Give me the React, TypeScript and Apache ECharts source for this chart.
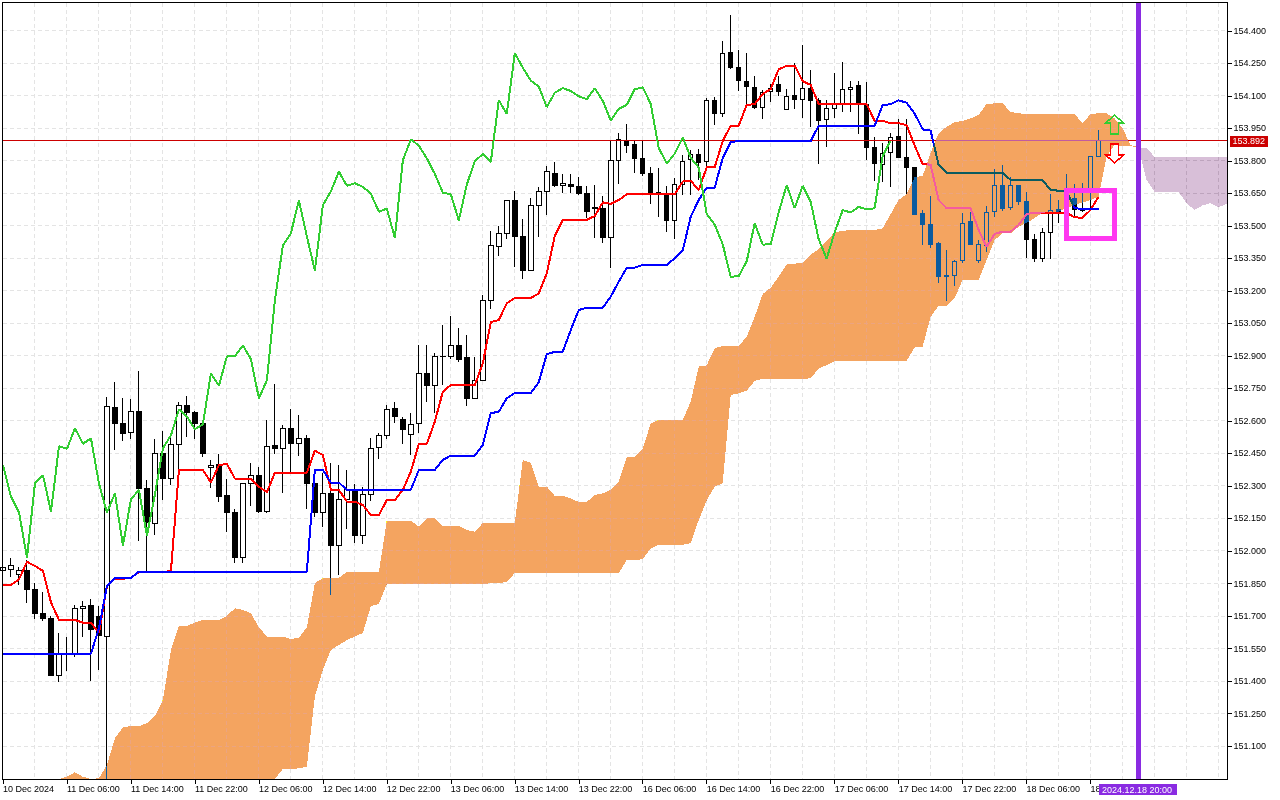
import React, { useEffect, useRef } from "react";
import * as echarts from "echarts";

const timeLabels = [
  "10 Dec 2024", "11 Dec 06:00", "11 Dec 14:00", "11 Dec 22:00", "12 Dec 06:00", "12 Dec 14:00",
  "12 Dec 22:00", "13 Dec 06:00", "13 Dec 14:00", "13 Dec 22:00", "16 Dec 06:00", "16 Dec 14:00",
  "16 Dec 22:00", "17 Dec 06:00", "17 Dec 14:00", "17 Dec 22:00", "18 Dec 06:00", "18",
];
const tickPrices = [
  154.4, 154.25, 154.1, 153.95, 153.8, 153.65, 153.5, 153.35, 153.2, 153.05, 152.9, 152.75,
  152.6, 152.45, 152.3, 152.15, 152.0, 151.85, 151.7, 151.55, 151.4, 151.25, 151.1,
];
const lastPrice = 153.892;
const lastTimeLabel = "2024.12.18 20:00";

// open, close, low, high
const candles = [
  [151.912,151.922,151.903,151.931],[151.913,151.932,151.879,151.966],[151.891,151.909,151.843,151.925],[151.912,151.821,151.761,151.959],
  [151.823,151.711,151.688,151.851],[151.713,151.688,151.678,151.811],[151.689,151.425,151.425,151.700],[151.426,151.528,151.397,151.620],
  [151.524,151.529,151.446,151.601],[151.524,151.736,151.512,151.749],[151.736,151.745,151.602,151.771],[151.749,151.639,151.401,151.780],
  [151.700,151.608,151.449,151.746],[151.606,152.668,150.950,152.710],[152.663,152.588,152.468,152.780],[152.589,152.541,152.509,152.705],
  [152.548,152.645,152.519,152.700],[152.645,152.288,152.048,152.829],[152.288,152.131,151.905,152.328],[152.128,152.449,152.074,152.516],
  [152.449,152.334,152.235,152.553],[152.334,152.491,152.305,152.528],[152.491,152.671,152.313,152.686],[152.672,152.637,152.528,152.715],
  [152.640,152.588,152.518,152.645],[152.589,152.449,152.435,152.589],[152.385,152.396,152.289,152.420],[152.397,152.251,152.228,152.448],
  [152.254,152.179,152.089,152.332],[152.179,151.969,151.943,152.194],[151.969,152.313,151.946,152.313],[152.313,152.350,152.209,152.405],
  [152.349,152.181,152.177,152.389],[152.181,152.483,152.174,152.605],[152.488,152.472,152.448,152.771],[152.474,152.566,152.269,152.581],
  [152.566,152.495,152.359,152.654],[152.495,152.520,152.439,152.628],[152.520,152.312,152.194,152.535],[152.313,152.177,152.158,152.360],
  [152.179,152.266,152.112,152.359],[152.266,152.025,151.797,152.405],[152.025,152.239,151.889,152.397],[152.239,152.282,152.102,152.374],
  [152.279,152.071,152.036,152.310],[152.071,152.262,152.033,152.297],[152.262,152.474,152.232,152.520],[152.477,152.534,152.426,152.543],
  [152.534,152.654,152.518,152.673],[152.659,152.620,152.592,152.686],[152.608,152.562,152.494,152.620],[152.539,152.585,152.443,152.636],
  [152.589,152.820,152.546,152.951],[152.820,152.763,152.689,152.951],[152.765,152.899,152.639,152.913],[152.896,152.899,152.766,153.043],
  [152.899,152.949,152.885,153.085],[152.949,152.886,152.874,153.029],[152.895,152.705,152.671,152.997],[152.705,152.788,152.705,152.895],
  [152.788,153.157,152.788,153.182],[153.157,153.411,153.118,153.477],[153.406,153.466,153.362,153.500],[153.466,153.619,153.441,153.619],
  [153.619,153.451,153.312,153.660],[153.452,153.294,153.257,153.531],[153.296,153.596,153.296,153.628],[153.596,153.660,153.451,153.681],
  [153.660,153.751,153.551,153.777],[153.743,153.686,153.681,153.794],[153.688,153.697,153.654,153.739],[153.692,153.681,153.651,153.739],
  [153.683,153.649,153.643,153.725],[153.651,153.566,153.538,153.685],[153.586,153.580,153.446,153.689],[153.582,153.446,153.423,153.640],
  [153.446,153.803,153.308,153.894],[153.803,153.900,153.694,153.928],[153.896,153.871,153.838,153.971],[153.874,153.812,153.746,153.893],
  [153.812,153.741,153.731,153.893],[153.740,153.654,153.602,153.772],[153.656,153.646,153.543,153.768],[153.646,153.526,153.474,153.685],
  [153.526,153.692,153.440,153.720],[153.692,153.799,153.643,153.828],[153.805,153.832,153.643,153.851],[153.832,153.795,153.712,153.854],
  [153.799,154.080,153.758,154.089],[154.080,154.018,153.966,154.094],[154.020,154.297,154.004,154.352],[154.302,154.231,154.223,154.474],
  [154.233,154.171,154.125,154.312],[154.168,154.143,154.062,154.298],[154.140,154.049,154.041,154.192],[154.048,154.115,153.995,154.128],
  [154.120,154.136,154.074,154.155],[154.154,154.123,154.100,154.192],[154.039,154.099,154.039,154.131],[154.103,154.085,154.039,154.251],
  [154.085,154.136,153.999,154.335],[154.136,154.078,153.958,154.220],[154.078,153.986,153.786,154.089],[153.993,154.041,153.866,154.082],
  [154.041,154.059,153.999,154.205],[154.063,154.131,154.026,154.256],[154.131,154.140,154.028,154.169],[154.149,154.063,153.925,154.169],
  [154.063,153.861,153.805,154.163],[153.863,153.788,153.709,153.909],[153.785,153.834,153.705,153.882],[153.838,153.909,153.681,153.928],
  [153.911,153.815,153.814,153.994],[153.817,153.770,153.648,153.994],[153.771,153.555,153.549,153.771],[153.559,153.506,153.412,153.574],
  [153.508,153.416,153.397,153.639],[153.417,153.266,153.239,153.428],[153.272,153.268,153.155,153.389],[153.272,153.337,153.224,153.343],
  [153.340,153.513,153.328,153.561],[153.519,153.414,153.414,153.563],[153.340,153.416,153.331,153.435],[153.412,153.563,153.382,153.592],
  [153.566,153.688,153.543,153.762],[153.688,153.583,153.571,153.782],[153.585,153.685,153.574,153.725],[153.685,153.612,153.597,153.689],
  [153.614,153.439,153.351,153.656],[153.439,153.349,153.333,153.463],[153.349,153.471,153.333,153.489],[153.471,153.573,153.346,153.648],
  [153.577,153.563,153.515,153.620],[153.573,153.588,153.551,153.740],[153.628,153.577,153.543,153.694],[153.571,153.582,153.566,153.700],
  [153.666,153.823,153.579,153.823],[153.820,153.894,153.820,153.943],
];

const tenkan = [
  151.843,151.843,151.869,151.950,151.931,151.908,151.763,151.682,151.682,151.682,151.669,151.669,151.622,151.839,
  151.872,151.872,151.876,151.903,151.903,151.903,151.903,151.908,152.374,152.374,152.374,152.374,152.316,152.396,
  152.402,152.334,152.334,152.334,152.297,152.272,152.361,152.361,152.361,152.361,152.361,152.463,152.443,152.282,
  152.282,152.228,152.228,152.212,152.166,152.166,152.235,152.235,152.282,152.366,152.494,152.494,152.597,152.735,
  152.766,152.766,152.766,152.766,152.866,153.056,153.066,153.143,153.168,153.168,153.168,153.189,153.282,153.454,
  153.528,153.528,153.528,153.528,153.546,153.609,153.602,153.620,153.646,153.646,153.646,153.646,153.646,153.646,
  153.646,153.705,153.709,153.666,153.771,153.771,153.892,153.963,153.963,154.058,154.063,154.109,154.132,154.223,
  154.239,154.240,154.169,154.151,154.063,154.063,154.063,154.063,154.063,154.063,154.063,153.985,153.986,153.974,
  153.974,153.966,153.872,153.786,153.783,153.620,153.582,153.582,153.582,153.582,153.482,153.404,153.463,153.474,
  153.474,153.505,153.555,153.561,153.561,153.561,153.561,153.561,153.540,153.538,153.574,153.635,
];

const kijun = [
  151.526,151.526,151.526,151.526,151.526,151.526,151.526,151.526,151.526,151.526,151.526,151.526,151.644,151.839,
  151.876,151.876,151.876,151.905,151.905,151.905,151.905,151.905,151.905,151.905,151.905,151.905,151.905,151.905,
  151.905,151.905,151.905,151.905,151.905,151.905,151.905,151.905,151.905,151.905,151.905,152.374,152.374,152.316,
  152.316,152.282,152.282,152.282,152.282,152.282,152.282,152.282,152.282,152.282,152.374,152.374,152.374,152.420,
  152.440,152.440,152.440,152.440,152.489,152.636,152.643,152.705,152.729,152.729,152.729,152.779,152.909,152.919,
  152.920,153.020,153.112,153.123,153.123,153.123,153.174,153.243,153.308,153.308,153.320,153.320,153.320,153.320,
  153.351,153.386,153.543,153.620,153.677,153.677,153.813,153.888,153.892,153.892,153.892,153.892,153.892,153.892,
  153.892,153.892,153.892,153.892,153.963,153.963,153.963,153.963,153.963,153.963,153.963,153.963,154.058,154.062,
  154.080,154.069,154.019,153.946,153.940,153.782,153.746,153.746,153.746,153.746,153.746,153.746,153.746,153.746,
  153.712,153.712,153.712,153.712,153.712,153.666,153.663,153.663,153.582,153.579,153.579,153.579,
];

const chikou = [
  152.396,152.251,152.179,151.969,152.313,152.350,152.181,152.483,152.472,152.566,152.495,152.520,152.312,152.177,
  152.266,152.025,152.239,152.282,152.071,152.262,152.474,152.534,152.654,152.620,152.562,152.585,152.820,152.763,
  152.899,152.899,152.949,152.886,152.705,152.788,153.157,153.411,153.466,153.619,153.451,153.294,153.596,153.660,
  153.751,153.686,153.697,153.681,153.649,153.566,153.580,153.446,153.803,153.900,153.871,153.812,153.741,153.654,
  153.646,153.526,153.692,153.799,153.832,153.795,154.080,154.018,154.297,154.231,154.171,154.143,154.049,154.115,
  154.136,154.123,154.099,154.085,154.136,154.078,153.986,154.041,154.059,154.131,154.140,154.063,153.861,153.788,
  153.834,153.909,153.815,153.770,153.555,153.506,153.416,153.266,153.268,153.337,153.513,153.414,153.416,153.563,
  153.688,153.583,153.685,153.612,153.439,153.349,153.471,153.573,153.563,153.588,153.577,153.582,153.823,153.894,
];

// Cloud edges: first value belongs to bar 7, last to bar 142
const cloudStartBar = 7;
const cloudUpper = [
  150.948,150.958,150.979,150.958,150.948,
  150.951,151.012,151.136,151.186,151.192,151.192,151.205,151.238,151.312,
  151.543,151.654,151.654,151.669,151.682,151.682,151.682,151.700,151.736,151.728,
  151.713,151.648,151.605,151.605,151.605,151.594,151.600,151.648,151.852,151.874,
  151.874,151.877,151.902,151.902,151.902,151.902,151.902,152.140,152.140,152.140,
  152.140,152.112,152.151,152.151,152.115,152.115,152.115,152.097,152.089,152.129,
  152.129,152.129,152.129,152.129,152.420,152.408,152.297,152.297,152.254,152.254,
  152.243,152.226,152.226,152.259,152.266,152.282,152.320,152.433,152.433,152.471,
  152.589,152.604,152.604,152.604,152.604,152.689,152.851,152.857,152.936,152.946,
  152.946,152.946,152.989,153.081,153.186,153.215,153.266,153.323,153.326,153.331,
  153.369,153.393,153.431,153.472,153.477,153.482,153.482,153.482,153.482,153.489,
  153.555,153.620,153.648,153.725,153.731,153.836,153.928,153.958,153.979,153.985,
  153.997,154.012,154.063,154.066,154.066,154.027,154.020,154.017,154.017,154.017,
  154.017,154.017,154.017,154.017,153.974,154.017,154.020,154.020,153.997,153.951,
  153.874,153.863,
];
const cloudLower = [
  150.9,150.9,150.9,150.9,150.9,150.9,150.9,150.9,150.9,150.9,150.9,150.9,150.9,150.9,
  150.9,150.9,150.9,150.9,150.9,150.9,150.9,150.9,150.9,150.9,150.9,150.9,150.9,
  150.948,150.994,150.994,150.997,151.005,151.328,151.451,
  151.543,151.566,151.589,151.605,151.622,151.746,151.755,151.848,151.848,151.848,
  151.848,151.848,151.848,151.848,151.848,151.848,151.848,151.848,151.848,151.848,
  151.851,151.851,151.858,151.898,151.898,151.898,151.898,151.898,151.898,151.898,
  151.898,151.898,151.898,151.898,151.898,151.898,151.898,151.958,151.958,151.962,
  152.012,152.028,152.028,152.028,152.028,152.037,152.143,152.235,152.297,152.313,
  152.720,152.728,152.740,152.785,152.794,152.794,152.794,152.794,152.794,152.794,
  152.797,152.843,152.858,152.877,152.878,152.878,152.878,152.878,152.878,152.878,
  152.878,152.878,152.878,152.939,152.943,153.081,153.131,153.131,153.166,153.251,
  153.251,153.251,153.343,153.435,153.466,153.466,153.497,153.514,153.537,153.561,
  153.566,153.566,153.583,153.597,153.608,153.620,153.634,153.819,153.874,153.869,
  153.869,153.863,
];
// Future cloud: first value belongs to bar 142, last to bar 153
const futureStartBar = 142;
const futureUpper = [153.863,153.859,153.820,153.820,153.820,153.820,153.820,153.820,153.820,153.820,153.820,153.820];
const futureLower = [153.863,153.712,153.658,153.658,153.658,153.658,153.605,153.574,153.595,153.606,153.586,153.602];

const currentBar = 142;
const boxBars = [133, 139];
const boxPrices = [153.664, 153.442];
const signalBars = [139, 139];
const signalPrices = [154.012, 153.791];
const signalDirections = [1, -1];

const BAR_COUNT = 154;
const Y_MAX = 154.5315;
const Y_MIN = 150.9454;
const FONT = "'Liberation Sans', Arial, sans-serif";
const GRID_COLOR = "#E4E4E4";
const CLOUD_XOR = "#0B5B9F";
const FUTURE_XOR = "#274027";
const CLOUD_GRID_XOR = "#F6FF1E";
const DASH = [4, 3];

const clampPrice = (v: number) => Math.min(Y_MAX, Math.max(Y_MIN, v));

function renderGrid(_: any, api: any) {
  const children: any[] = [];
  const x0 = api.coord([0, Y_MIN])[0];
  const x1 = api.coord([BAR_COUNT - 1, Y_MIN])[0] + 1;
  const yTop = api.coord([0, Y_MAX])[1];
  const yBottom = api.coord([0, Y_MIN])[1];
  const vline = (x: number, y1: number, y2: number) => {
    if (y2 > y1) children.push({ type: "line", shape: { x1: x, y1, x2: x, y2 }, style: { stroke: GRID_COLOR, lineWidth: 1, lineDash: DASH } });
  };
  tickPrices.forEach((p) => {
    const y = Math.floor(api.coord([0, p])[1]) + 0.5;
    children.push({ type: "line", shape: { x1: x0, y1: y, x2: x1, y2: y }, style: { stroke: GRID_COLOR, lineWidth: 1, lineDash: DASH } });
  });
  for (let i = 4; i < BAR_COUNT; i += 4) {
    const x = api.coord([i, Y_MIN])[0];
    const k = i - cloudStartBar;
    if (k >= 0 && i < futureStartBar) {
      vline(x, yTop, api.coord([0, clampPrice(cloudUpper[k])])[1]);
      vline(x, api.coord([0, clampPrice(cloudLower[k])])[1], yBottom);
    } else {
      vline(x, yTop, yBottom);
    }
  }
  return { type: "group", children };
}

// Grid as seen through the cloud: the cloud is an XOR paint, so its dashes are lighter than its fill.
function renderCloudGrid(_: any, api: any) {
  const children: any[] = [];
  const step = api.coord([1, Y_MIN])[0] - api.coord([0, Y_MIN])[0];
  const xAt = (b: number) => api.coord([0, Y_MIN])[0] + b * step;
  const hseg = (x1: number, x2: number, y: number) => {
    children.push({ type: "line", shape: { x1, y1: y, x2, y2: y }, style: { stroke: "#FFFFFF", lineWidth: 1 } });
    children.push({ type: "line", shape: { x1, y1: y, x2, y2: y }, style: { stroke: CLOUD_GRID_XOR, lineWidth: 1, lineDash: DASH } });
  };
  tickPrices.forEach((p) => {
    const y = Math.floor(api.coord([0, p])[1]) + 0.5;
    let cur: number[] | null = null;
    for (let k = 0; k < cloudUpper.length - 1; k++) {
      let t0 = 0;
      let t1 = 1;
      [[cloudUpper[k] - p, cloudUpper[k + 1] - p], [p - cloudLower[k], p - cloudLower[k + 1]]].forEach(([a, b]) => {
        if (a < 0 && b < 0) t1 = -1;
        else if (a < 0) t0 = Math.max(t0, a / (a - b));
        else if (b < 0) t1 = Math.min(t1, a / (a - b));
      });
      if (t1 <= t0) {
        if (cur) hseg(xAt(cur[0]), xAt(cur[1]), y);
        cur = null;
        continue;
      }
      const s = cloudStartBar + k + t0;
      const e = cloudStartBar + k + t1;
      if (cur && Math.abs(cur[1] - s) < 1e-6) cur[1] = e;
      else {
        if (cur) hseg(xAt(cur[0]), xAt(cur[1]), y);
        cur = [s, e];
      }
    }
    if (cur) hseg(xAt(cur[0]), xAt(cur[1]), y);
  });
  for (let i = 8; i < futureStartBar; i += 4) {
    const k = i - cloudStartBar;
    const hi = clampPrice(cloudUpper[k]);
    const lo = clampPrice(cloudLower[k]);
    if (hi > lo) {
      const x = xAt(i);
      children.push({
        type: "line",
        shape: { x1: x, y1: api.coord([0, hi])[1], x2: x, y2: api.coord([0, lo])[1] },
        style: { stroke: CLOUD_GRID_XOR, lineWidth: 1, lineDash: DASH },
      });
    }
  }
  return { type: "group", children };
}

function renderPriceLine(_: any, api: any) {
  const y = Math.floor(api.coord([0, lastPrice])[1]) - 0.5;
  const x0 = api.coord([0, Y_MIN])[0];
  const x1 = api.coord([BAR_COUNT - 1, Y_MIN])[0] + 1;
  return { type: "line", shape: { x1: x0, y1: y, x2: x1, y2: y }, style: { stroke: "#CC0000", lineWidth: 1 } };
}

function cloudRenderer(start: number, upper: number[], lower: number[], fill: string) {
  return (_: any, api: any) => {
    const pts: number[][] = [];
    upper.forEach((v, k) => pts.push(api.coord([start + k, clampPrice(v)])));
    for (let k = lower.length - 1; k >= 0; k--) pts.push(api.coord([start + k, clampPrice(lower[k])]));
    return { type: "polygon", shape: { points: pts }, style: { fill, stroke: null } };
  };
}

function renderAnnotations(_: any, api: any) {
  const children: any[] = [];
  const xTop = api.coord([currentBar, Y_MAX]);
  const xBottom = api.coord([currentBar, Y_MIN]);
  children.push({ type: "line", shape: { x1: xTop[0], y1: xTop[1], x2: xBottom[0], y2: xBottom[1] }, style: { stroke: "#8A2BE2", lineWidth: 5 } });

  const a = api.coord([boxBars[0], boxPrices[0]]);
  const b = api.coord([boxBars[1], boxPrices[1]]);
  children.push({
    type: "rect",
    shape: { x: a[0], y: a[1], width: b[0] - a[0], height: b[1] - a[1] },
    style: { fill: "none", stroke: "#FF38F0", lineWidth: 4.5 },
  });

  signalBars.forEach((bar, k) => {
    const [x, y] = api.coord([bar, signalPrices[k]]);
    const d = signalDirections[k];
    const outline = [[0, 0], [9, 8], [4, 8], [4, 19], [-4, 19], [-4, 8], [-9, 8]];
    children.push({
      type: "polygon",
      shape: { points: outline.map(([dx, dy]) => [x + dx, y + d * dy]) },
      style: { fill: "none", stroke: d > 0 ? "#32CD32" : "#FF0000", lineWidth: 1.5 },
    });
  });
  return { type: "group", children };
}

const anchor = [[0, 152]];
const customBase = { type: "custom", data: anchor, encode: { x: 0, y: 1 }, silent: true, clip: false };

export default function App() {
  const ref = useRef<HTMLDivElement>(null);
  useEffect(() => {
    const dom = ref.current!;
    const chart = echarts.init(dom, undefined, { renderer: "svg" });
    const categories = Array.from({ length: BAR_COUNT }, (_, i) => (i % 8 === 0 && timeLabels[i / 8]) || "");
    const lastLabelled = (timeLabels.length - 1) * 8;
    const isTick = (i: number) => i % 8 === 0 && i <= lastLabelled;
    chart.setOption({
      animation: false,
      backgroundColor: "#FFFFFF",
      textStyle: { fontFamily: FONT },
      grid: { left: 2.5, top: 2.5, width: 1224, height: 777, containLabel: false },
      xAxis: {
        type: "category",
        data: categories,
        boundaryGap: false,
        axisLine: { show: false },
        axisTick: { show: true, length: 4, interval: (i: number) => isTick(i), lineStyle: { color: "#000" } },
        axisLabel: {
          show: true,
          interval: (i: number) => isTick(i),
          align: "left",
          margin: 5,
          fontSize: 9,
          fontFamily: FONT,
          color: "#000",
          hideOverlap: false,
        },
        splitLine: { show: false },
      },
      yAxis: {
        type: "value",
        position: "right",
        offset: 1,
        min: Y_MIN,
        max: Y_MAX,
        scale: true,
        axisLine: { show: false },
        axisTick: { show: true, length: 4, customValues: tickPrices, lineStyle: { color: "#000" } },
        axisLabel: {
          show: true,
          customValues: tickPrices,
          formatter: (v: number) => v.toFixed(3),
          margin: 6,
          fontSize: 9,
          fontFamily: FONT,
          color: "#000",
        },
        splitLine: { show: false },
      },
      graphic: [
        { type: "rect", z: 90, silent: true, shape: { x: 2.5, y: 2.5, width: 1225, height: 777 }, style: { fill: "none", stroke: "#000", lineWidth: 1 } },
        { type: "rect", z: 91, silent: true, shape: { x: 1099, y: 784, width: 78, height: 11 }, style: { fill: "#8A2BE2" } },
        { type: "text", z: 92, silent: true, x: 1102, y: 784.5, style: { text: lastTimeLabel, fill: "#fff", fontSize: 9, fontFamily: FONT, textBaseline: "top", lineHeight: 11 } },
      ],
      series: [
        { ...customBase, name: "grid", z: 0, renderItem: renderGrid },
        { ...customBase, name: "gridInCloud", z: 1, renderItem: renderCloudGrid },
        {
          type: "candlestick",
          name: "candles",
          z: 2,
          barWidth: 5,
          data: candles,
          silent: true,
          itemStyle: { color: "#FFFFFF", color0: "#000000", borderColor: "#000000", borderColor0: "#000000", borderWidth: 1 },
          markLine: {
            silent: true,
            symbol: "none",
            animation: false,
            lineStyle: { color: "rgba(0,0,0,0)", width: 1, opacity: 1, type: "solid" },
            label: {
              show: true,
              position: "end",
              distance: 3,
              opacity: 1,
              formatter: () => lastPrice.toFixed(3),
              color: "#fff",
              backgroundColor: "#CC0000",
              padding: [1, 3, 1, 3],
              fontSize: 9,
              fontFamily: FONT,
            },
            data: [{ yAxis: lastPrice }],
          },
        },
        { ...customBase, name: "priceLine", z: 3, renderItem: renderPriceLine },
        { type: "line", name: "tenkan", z: 3, data: tenkan, symbol: "none", silent: true, lineStyle: { color: "#FF0000", width: 2 } },
        { type: "line", name: "kijun", z: 3, data: kijun, symbol: "none", silent: true, lineStyle: { color: "#0000FF", width: 2 } },
        { ...customBase, name: "cloud", z: 4, renderItem: cloudRenderer(cloudStartBar, cloudUpper, cloudLower, CLOUD_XOR) },
        { ...customBase, name: "futureCloud", z: 4, renderItem: cloudRenderer(futureStartBar, futureUpper, futureLower, FUTURE_XOR) },
        { type: "line", name: "chikou", z: 5, data: chikou, symbol: "none", silent: true, lineStyle: { color: "#32CD32", width: 2 } },
        { ...customBase, name: "annotations", z: 6, renderItem: renderAnnotations },
      ],
    });
    const toRgb = (hex: string) => {
      const n = parseInt(hex.slice(1), 16);
      return `rgb(${n >> 16},${(n >> 8) & 255},${n & 255})`;
    };
    const blendFills = [CLOUD_XOR, FUTURE_XOR].flatMap((c) => [c.toLowerCase(), toRgb(c)]);
    const applyBlend = () => {
      dom.querySelectorAll("path").forEach((el) => {
        el.setAttribute("shape-rendering", "crispEdges");
        const f = (el.getAttribute("fill") || "").toLowerCase().replace(/\s/g, "");
        if (blendFills.includes(f)) (el as SVGElement).style.mixBlendMode = "difference";
      });
    };
    chart.on("rendered", applyBlend);
    applyBlend();
    const raf = requestAnimationFrame(applyBlend);
    return () => {
      cancelAnimationFrame(raf);
      chart.dispose();
    };
  }, []);
  return <div ref={ref} style={{ position: "fixed", left: 0, top: 0, width: 1280, height: 800 }} />;
}
